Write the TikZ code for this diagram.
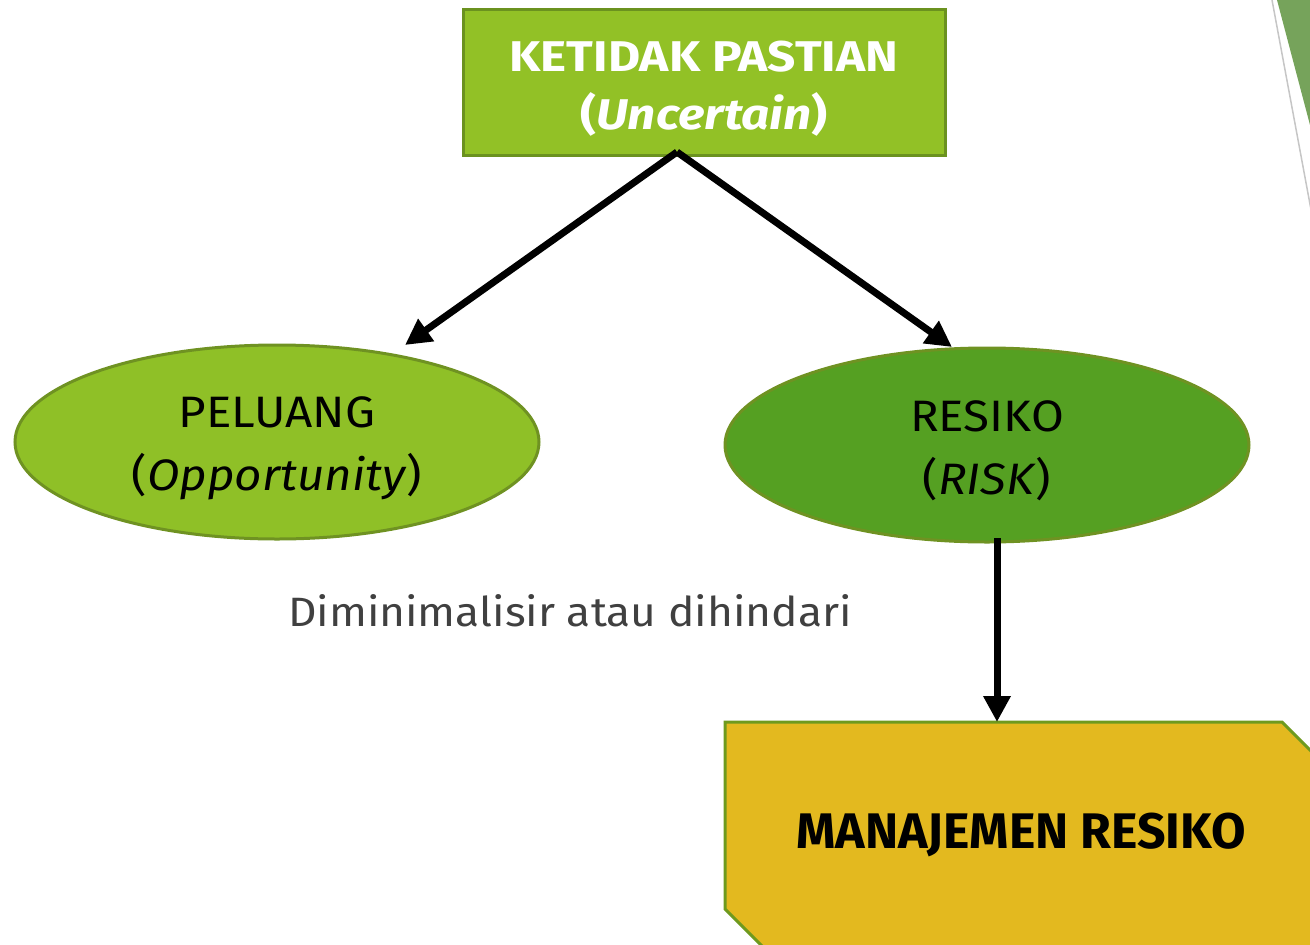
\documentclass[tikz,border=0pt]{standalone}
\usepackage{fontspec}
\setmainfont{Fira Sans}[FakeStretch=1.08]
\newfontfamily\widefs{Fira Sans}[FakeStretch=1.15]
\newfontfamily\plainfs{Fira Sans}
\usetikzlibrary{arrows.meta,shapes.geometric,calc}
\definecolor{topfill}{HTML}{92C126}
\definecolor{topline}{HTML}{6B921F}
\definecolor{pelfill}{HTML}{8FC027}
\definecolor{resfill}{HTML}{55A022}
\definecolor{ellline}{HTML}{6F9222}
\definecolor{mgfill}{HTML}{E3B91F}
\definecolor{mgline}{HTML}{6E9A1E}
\definecolor{decogreen}{HTML}{76A35B}
\definecolor{txtgray}{HTML}{404040}
\tikzset{
  topbox/.style={draw=topline,line width=3pt,fill=topfill,minimum width=482pt,minimum height=146pt,inner sep=0pt},
  toptext/.style={text=white,align=center,font=\widefs\fontsize{43}{58}\selectfont\bfseries,inner sep=0pt},
  ell/.style={ellipse,draw=ellline,line width=3pt,minimum width=524pt,minimum height=194pt,inner sep=0pt},
  elltext/.style={align=center,font=\fontsize{44}{63}\selectfont,inner sep=0pt},
  arr/.style={line width=7pt,-{Triangle[length=26pt,width=26pt]}},
  mgtext/.style={font=\plainfs\fontsize{50}{56}\selectfont\bfseries,text=black,inner sep=0pt},
  note/.style={font=\fontsize{41}{50}\selectfont,text=txtgray,inner sep=0pt}
}
\begin{document}
\begin{tikzpicture}[x=1pt,y=-1pt]
\useasboundingbox (0,0) rectangle (1310,945);
\clip (0,0) rectangle (1310,945);
% decoration top right
\fill[decogreen] (1277,0) -- (1310,0) -- (1310,125) -- cycle;
\draw[gray!45,line width=1.5pt] (1272,0) -- (1312,215);
% nodes
\node[topbox] (top) at (704,82) {};
\node[toptext] (toptxt) at (704,89) {KETIDAK PASTIAN\\(\textit{Uncertain})};
\node[ell,fill=pelfill] (pel) at (277,442) {};
\node[elltext] (peltxt) at (277,448) {PELUANG\\(\textit{Opportunity})};
\node[ell,fill=resfill] (res) at (987,445) {};
\node[elltext] (restxt) at (987,451) {RESIKO\\(\textit{RISK})};
\node[note] (note) at (570,611) {Diminimalisir atau dihindari};
\draw[mgline,line width=3pt,fill=mgfill] (725,722) -- (1282,722) -- (1330,770) -- (1330,952) -- (768,952) -- (725,909) -- cycle;
\node[mgtext] (mg) at (1021,835) {MANAJEMEN RESIKO};
\coordinate (mgtop) at (997,722);
% connectors
\coordinate (src) at (677,152);
\coordinate (tipL) at (405,345);
\coordinate (tipR) at (952,347);
\coordinate (vstart) at (997,538);
\draw[arr] (src) -- (tipL);
\draw[arr] (src) -- (tipR);
\draw[arr] (vstart) -- (mgtop);
\end{tikzpicture}
\end{document}
